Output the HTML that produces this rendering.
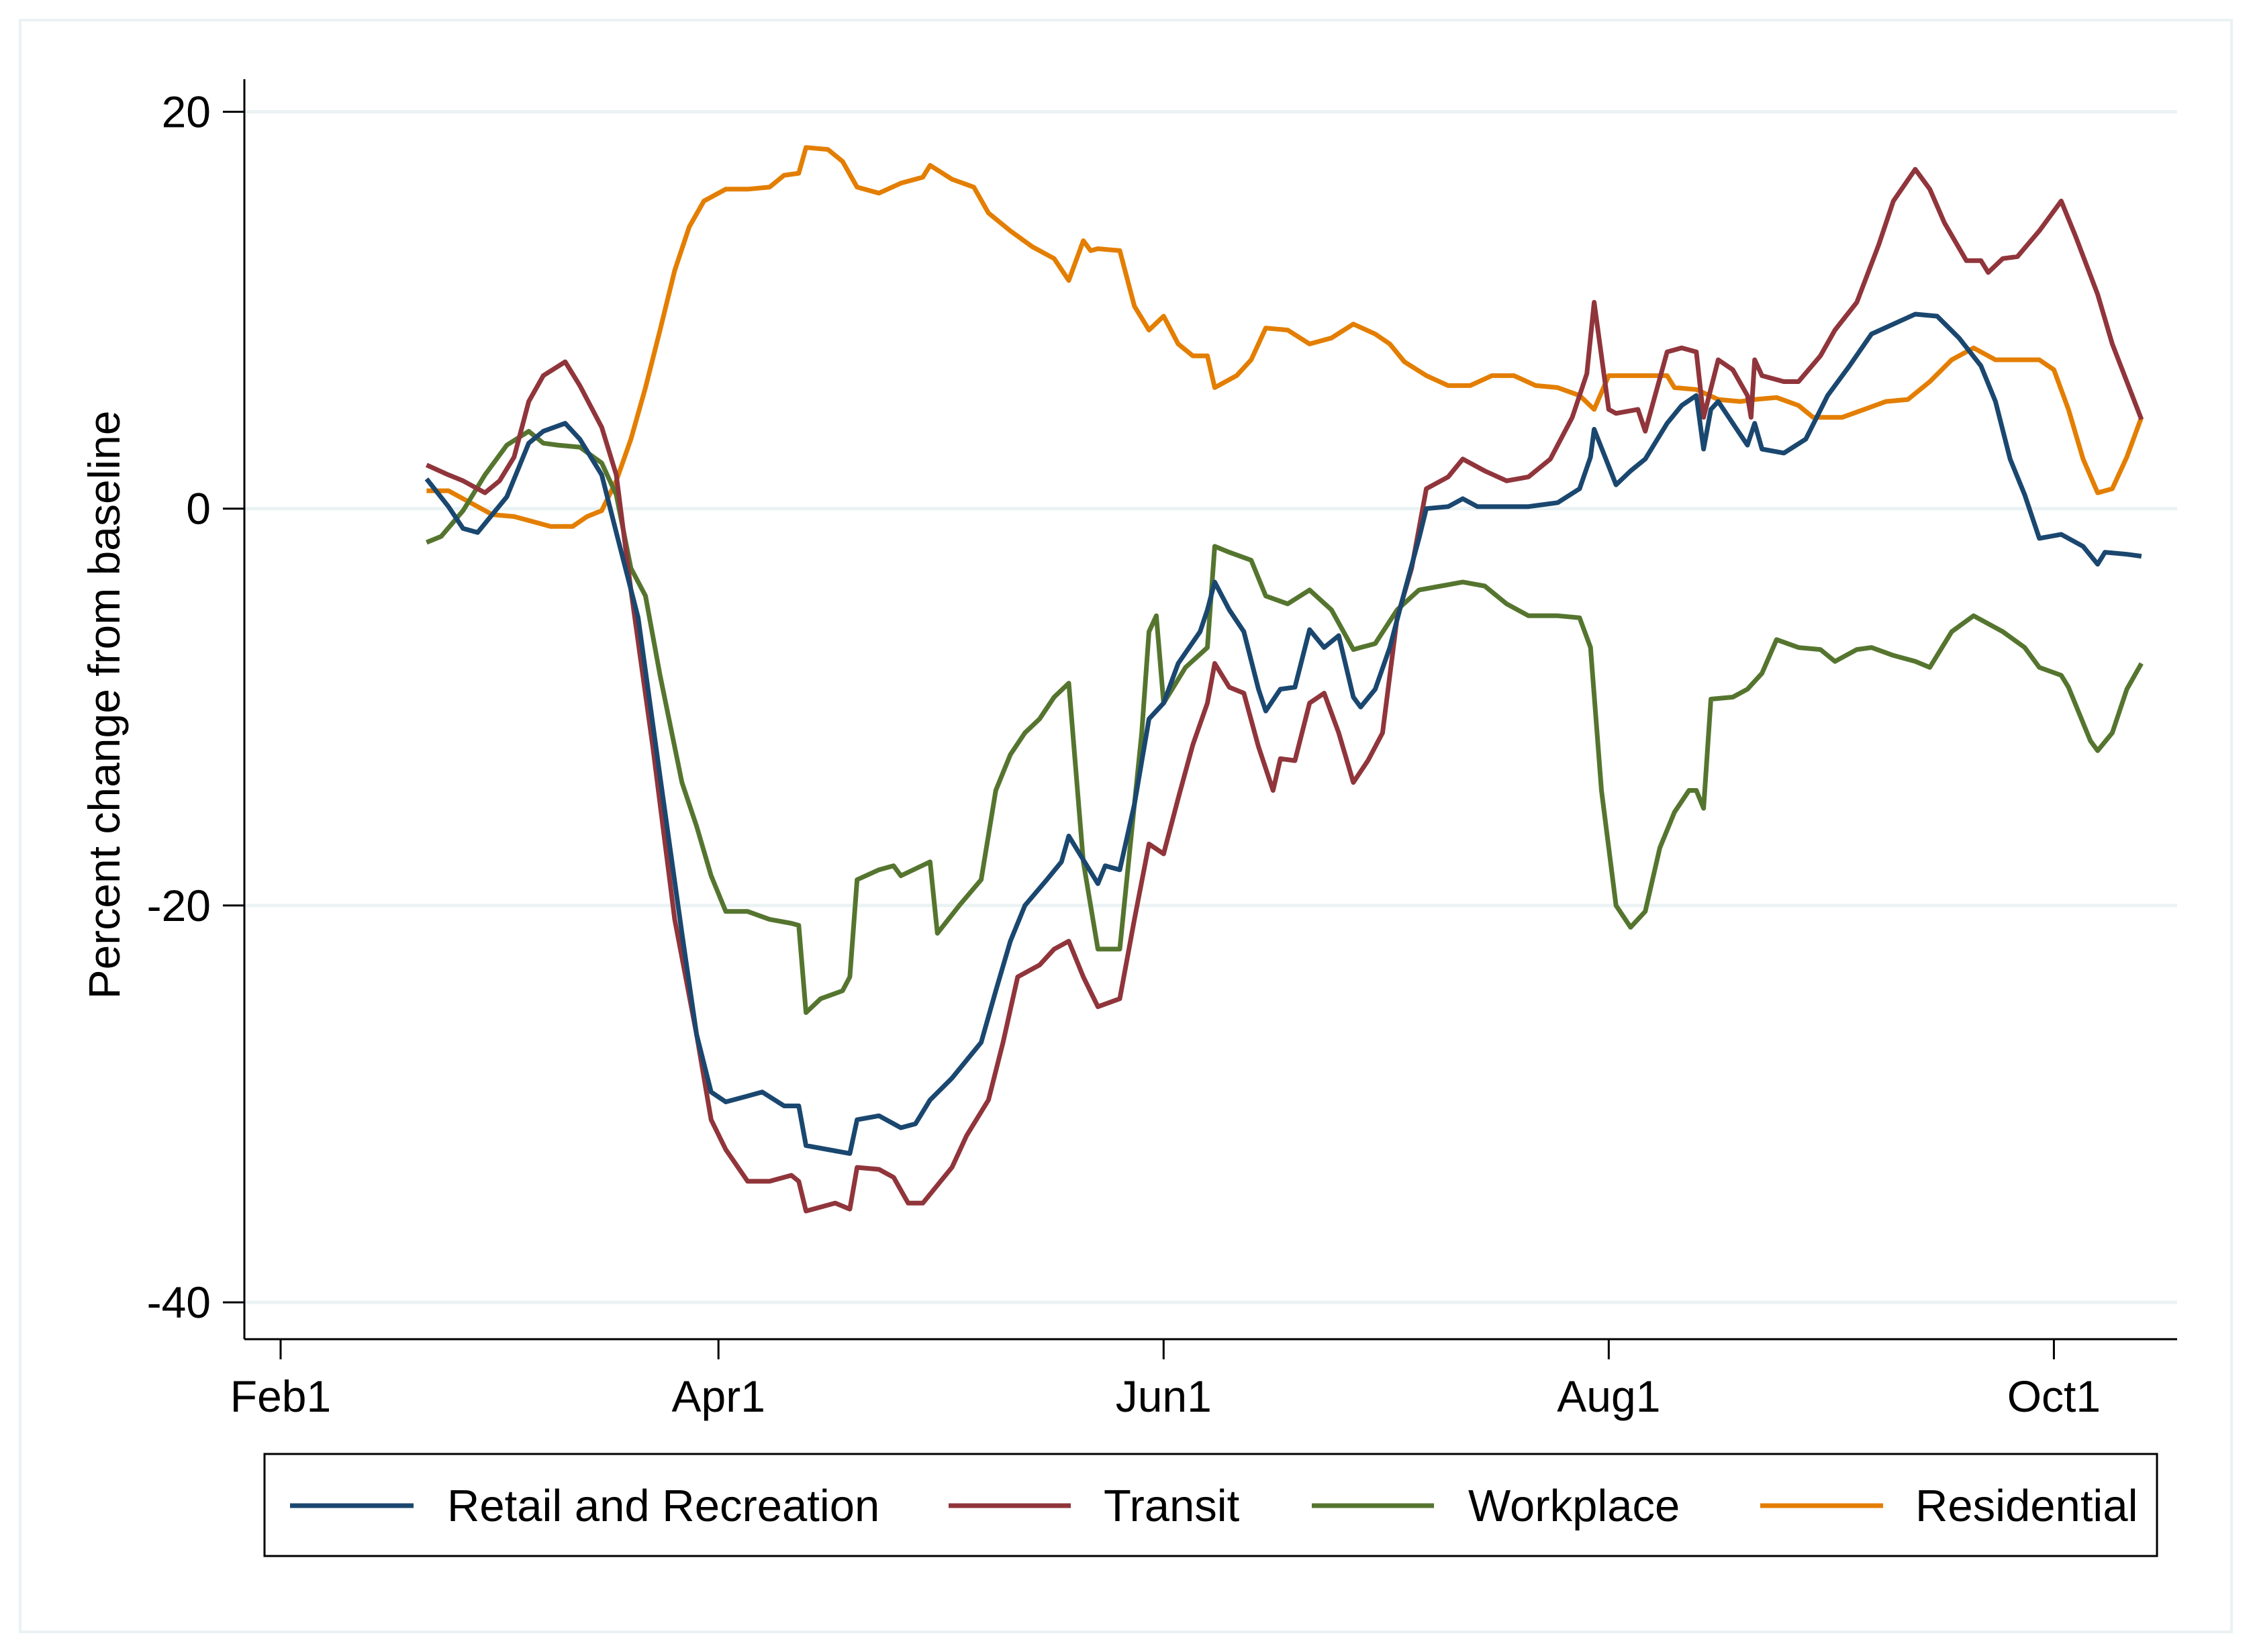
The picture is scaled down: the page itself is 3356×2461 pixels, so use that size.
<!DOCTYPE html>
<html><head><meta charset="utf-8"><style>
body{margin:0;background:#fff;}
svg{display:block;font-family:"Liberation Sans",sans-serif;}
</style></head><body>
<svg id="chart" width="3356" height="2461" viewBox="0 0 3356 2461">
<rect x="30" y="30" width="3294" height="2401" fill="#fff" stroke="#eaf2f3" stroke-width="4"/>
<g id="grid"></g><g id="axes"></g><g id="series"></g>
<text transform="translate(178,1050) rotate(-90)" text-anchor="middle" font-size="66">Percent change from baseline</text>
<g>
<rect x="394" y="2166" width="2819" height="152" fill="#fff" stroke="#000" stroke-width="3"/>
<g><line x1="432" y1="2243" x2="616" y2="2243" stroke="#1a476f" stroke-width="7"/><text x="666" y="2266" font-size="67">Retail and Recreation</text></g>
<g><line x1="1413" y1="2243" x2="1595" y2="2243" stroke="#90353b" stroke-width="7"/><text x="1644" y="2266" font-size="67">Transit</text></g>
<g><line x1="1954" y1="2243" x2="2136" y2="2243" stroke="#55752f" stroke-width="7"/><text x="2187" y="2266" font-size="67">Workplace</text></g>
<g><line x1="2622" y1="2243" x2="2805" y2="2243" stroke="#e37e00" stroke-width="7"/><text x="2853" y="2266" font-size="67">Residential</text></g>
</g>
</svg>
<script>
const yTicks=[20,0,-20,-40];
const xTickDays=[0,60,121,182,243];
const xTickLabels=["Feb1","Apr1","Jun1","Aug1","Oct1"];
const retailDays=[20,23,25,27,31,34,36,39,41,44,46,49,52,55,57,59,61,64,66,69,71,72,75,78,79,82,85,87,89,92,96,98,100,102,105,107,108,110,112,113,115,117,119,121,123,126,127,128,130,132,134,135,137,139,141,143,145,147,148,150,152,154,156,157,160,162,164,167,171,175,178,179.5,180,183,185,187,190,192,194,195,196,197,199,201,202,203,206,209,212,215,218,221,224,227,230,233,235,237,239,241,244,247,249,250,253,255];
const retailVals=[1.5,0.1,-1,-1.2,0.6,3.3,3.9,4.3,3.5,1.7,-1.2,-5.5,-13.5,-21.4,-26.5,-29.4,-29.9,-29.6,-29.4,-30.1,-30.1,-32.1,-32.3,-32.5,-30.8,-30.6,-31.2,-31,-29.8,-28.7,-26.9,-24.3,-21.8,-20,-18.7,-17.8,-16.5,-17.7,-18.9,-18,-18.2,-14.9,-10.6,-9.8,-7.8,-6.2,-5.1,-3.7,-5.1,-6.2,-9.1,-10.2,-9.1,-9,-6.1,-7,-6.4,-9.5,-10,-9.1,-7,-4.2,-1.5,0,0.1,0.5,0.1,0.1,0.1,0.3,1,2.6,4,1.2,1.9,2.5,4.3,5.2,5.7,3,5,5.4,4.3,3.2,4.3,3,2.8,3.5,5.7,7.2,8.8,9.3,9.8,9.7,8.6,7.2,5.4,2.5,0.7,-1.5,-1.3,-1.9,-2.8,-2.2,-2.3,-2.4];
const transitDays=[20,23,25,28,30,32,34,36,39,41,44,46,48,51,54,57,59,61,64,67,70,71,72,76,78,79,82,84,86,88,90,92,94,97,99,101,104,106,108,110,112,115,117,119,121,123,125,127,128,130,132,134,136,137,139,141,143,145,147,149,151,153,155,157,160,162,165,168,171,174,177,179,180,182,183,186,187,190,192,194,195,197,199,201,201.5,202,203,206,208,211,213,216,219,221,224,226,228,231,233,234,236,238,241,244,246,249,251,253,255];
const transitVals=[2.2,1.7,1.4,0.8,1.4,2.6,5.4,6.7,7.4,6.2,4.1,1.7,-4.1,-12,-20.7,-26.5,-30.8,-32.3,-33.9,-33.9,-33.6,-33.9,-35.4,-35,-35.3,-33.2,-33.3,-33.7,-35,-35,-34.1,-33.2,-31.6,-29.8,-26.9,-23.6,-23,-22.2,-21.8,-23.6,-25.1,-24.7,-20.7,-16.9,-17.4,-14.6,-11.9,-9.8,-7.8,-9,-9.3,-12,-14.2,-12.6,-12.7,-9.8,-9.3,-11.3,-13.8,-12.7,-11.3,-5.5,-3,1,1.6,2.5,1.9,1.4,1.6,2.5,4.6,6.8,10.4,5,4.8,5,3.9,7.9,8.1,7.9,4.6,7.5,7,5.7,4.6,7.5,6.7,6.4,6.4,7.7,9,10.4,13.3,15.5,17.1,16.1,14.4,12.5,12.5,11.9,12.6,12.7,14,15.5,13.7,10.8,8.3,6.4,4.5];
const workDays=[20,22,25,28,31,34,36,38,41,44,46,48,50,52,55,57,59,61,64,67,70,71,72,74,77,78,79,82,84,85,89,90,93,96,98,100,102,104,106,108,110,112,115,117,118,119,120,121,124,127,128,130,133,135,138,141,144,147,150,153,156,159,162,165,168,171,175,178,179.5,181,183,185,187,189,191,193,194,195,196,199,201,203,205,208,211,213,216,218,221,224,226,229,232,236,239,241,244,245,248,249,251,253,255];
const workVals=[-1.7,-1.4,-0.1,1.7,3.2,3.9,3.3,3.2,3.1,2.3,0.7,-3,-4.4,-8.4,-13.8,-16,-18.5,-20.3,-20.3,-20.7,-20.9,-21,-25.4,-24.7,-24.3,-23.6,-18.7,-18.2,-18,-18.5,-17.8,-21.4,-20,-18.7,-14.2,-12.4,-11.3,-10.6,-9.5,-8.8,-17.8,-22.2,-22.2,-14.9,-11.3,-6.2,-5.4,-9.8,-8,-7,-1.9,-2.2,-2.6,-4.4,-4.8,-4.1,-5.1,-7.1,-6.8,-5.1,-4.1,-3.9,-3.7,-3.9,-4.8,-5.4,-5.4,-5.5,-7,-14.2,-20,-21.1,-20.3,-17.1,-15.3,-14.2,-14.2,-15.1,-9.6,-9.5,-9.1,-8.3,-6.6,-7,-7.1,-7.7,-7.1,-7,-7.4,-7.7,-8,-6.2,-5.4,-6.2,-7,-8,-8.4,-9,-11.7,-12.2,-11.3,-9.1,-7.8];
const resDays=[20,23,26,29,32,34,37,40,42,44,46,48,50,52,54,56,58,61,64,67,69,71,72,75,77,79,82,85,88,89,92,95,97,100,103,106,108,110,111,112,115,117,119,121,123,125,127,128,131,133,135,138,141,144,147,150,152,154,157,160,163,166,169,172,175,178,180,182,184,187,190,191,194,197,200,202,205,208,210,214,217,220,223,226,229,232,235,238,241,243,245,247,249,251,253,255];
const resVals=[0.9,0.9,0.3,-0.3,-0.4,-0.6,-0.9,-0.9,-0.4,-0.1,1.4,3.5,6.1,9,12,14.2,15.5,16.1,16.1,16.2,16.8,16.9,18.2,18.1,17.5,16.2,15.9,16.4,16.7,17.3,16.6,16.2,14.9,14,13.2,12.6,11.5,13.5,13,13.1,13,10.2,9,9.7,8.3,7.7,7.7,6.1,6.7,7.5,9.1,9,8.3,8.6,9.3,8.8,8.3,7.4,6.7,6.2,6.2,6.7,6.7,6.2,6.1,5.7,5,6.7,6.7,6.7,6.7,6.1,6,5.5,5.4,5.5,5.6,5.2,4.6,4.6,5,5.4,5.5,6.4,7.5,8.1,7.5,7.5,7.5,7,5,2.5,0.8,1,2.6,4.6];

const NS="http://www.w3.org/2000/svg";
const x0=364,x1=3243,yTop=118,yBot=1995;
function xScale(d){return 418+d*10.87;}
function yScale(v){return 757.7-v*29.56;}
function mk(tag,attrs,parent){const e=document.createElementNS(NS,tag);for(const k in attrs)e.setAttribute(k,attrs[k]);parent.appendChild(e);return e;}
const grid=document.getElementById('grid'),axes=document.getElementById('axes'),series=document.getElementById('series');
yTicks.forEach(v=>{
  const y=yScale(v);
  const g=mk('line',{x1:x0,x2:x1,y1:y,y2:y,stroke:'#eaf2f3','stroke-width':5},grid);
  
  
  const t=mk('line',{x1:x0-32,x2:x0,y1:y,y2:y,stroke:'#000','stroke-width':3},axes);
  
  
  const l=mk('text',{x:x0-50,y:y+23,'text-anchor':'end','font-size':66},axes);
  
  
  l.textContent=v;
});
xTickDays.forEach((d,i)=>{
  const x=xScale(d);
  const t=mk('line',{x1:x,x2:x,y1:yBot,y2:yBot+30,stroke:'#000','stroke-width':3},axes);
  
  
  const l=mk('text',{x:x,y:yBot+108,'text-anchor':'middle','font-size':66},axes);
  
  
  l.textContent=xTickLabels[i];
});
const ya=mk('line',{x1:x0,x2:x0,y1:yTop,y2:yBot,stroke:'#000','stroke-width':3},axes);


const xa=mk('line',{x1:x0,x2:x1,y1:yBot,y2:yBot,stroke:'#000','stroke-width':3},axes);


function line(days,vals,color,name){
  const d=days.map((dd,i)=>(i?'L':'M')+xScale(dd).toFixed(1)+','+yScale(vals[i]).toFixed(1)).join(' ');
  const p=mk('path',{d:d,fill:'none',stroke:color,'stroke-width':7,'stroke-linejoin':'round'},series);
  
  
}
line(resDays,resVals,'#e37e00','residential-line');
line(workDays,workVals,'#55752f','workplace-line');
line(transitDays,transitVals,'#90353b','transit-line');
line(retailDays,retailVals,'#1a476f','retail-recreation-line');
</script>
</body></html>
